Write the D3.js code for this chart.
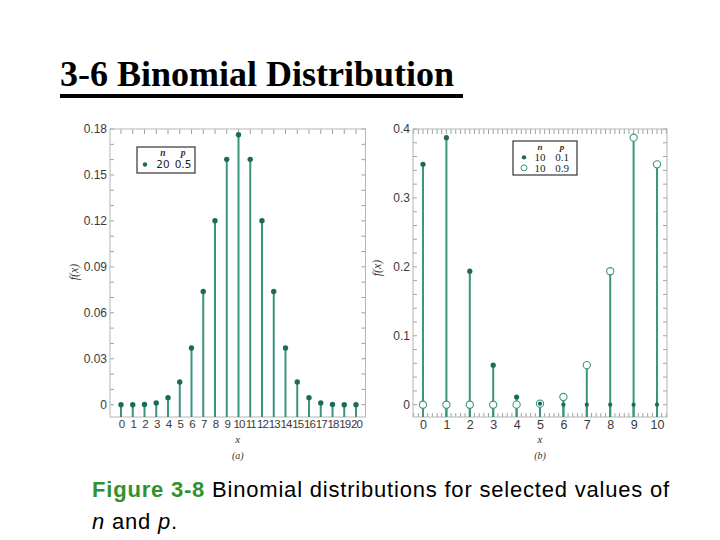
<!DOCTYPE html>
<html><head><meta charset="utf-8">
<script src="https://cdn.jsdelivr.net/npm/d3@7"></script>
<style>body{margin:0;background:#fff}svg{display:block}</style>
</head><body>
<svg id="c" width="720" height="540"></svg>
<script>
// ---- data ----
const titleText = "3-6 Binomial Distribution";
const xA = d3.range(0, 21);
const fA = [0.0000, 0.0000, 0.0002, 0.0011, 0.0046, 0.0148, 0.0370, 0.0739, 0.1201, 0.1602, 0.1762,
            0.1602, 0.1201, 0.0739, 0.0370, 0.0148, 0.0046, 0.0011, 0.0002, 0.0000, 0.0000];
const xB = d3.range(0, 11);
const fB1 = [0.3487, 0.3874, 0.1937, 0.0574, 0.0112, 0.0015, 0.0001, 0.0000, 0.0000, 0.0000, 0.0000]; // n=10 p=0.1
const fB9 = [0.0000, 0.0000, 0.0000, 0.0000, 0.0001, 0.0015, 0.0112, 0.0574, 0.1937, 0.3874, 0.3487]; // n=10 p=0.9
const yTicksA = [0, 0.03, 0.06, 0.09, 0.12, 0.15, 0.18];
const yTicksB = [0, 0.1, 0.2, 0.3, 0.4];
const legendA = [{n: "20", p: "0.5", open: false}];
const legendB = [{n: "10", p: "0.1", open: false}, {n: "10", p: "0.9", open: true}];

const stemColor = "#3b9580", dotColor = "#1c6a58", frameColor = "#b5b5b5", tickColor = "#a0a0a0";
const svg = d3.select("#c");

// Title
svg.append("text").attr("x", 60).attr("y", 86)
  .attr("font-family", "Liberation Serif, Times New Roman, serif").attr("font-weight", "bold")
  .attr("font-size", 36).attr("fill", "#000").text(titleText);
svg.append("rect").attr("x", 60).attr("y", 94).attr("width", 403).attr("height", 4).attr("fill", "#000");

function panel(cfg) {
  const g = svg.append("g");
  const x = d3.scaleLinear().domain(cfg.xDomain).range(cfg.xRange);
  const y = d3.scaleLinear().domain([0, cfg.yMax]).range([cfg.y0, cfg.yTop]);
  const L = cfg.frame[0], R = cfg.frame[1], T = cfg.yTop, B = cfg.bottom;

  // minor ticks
  const ym = d3.range(0, cfg.yMax + 1e-9, cfg.yMinor);
  g.append("g").selectAll("line").data(ym).join("line")
    .attr("x1", L).attr("x2", L + 4).attr("y1", d => y(d)).attr("y2", d => y(d))
    .attr("stroke", tickColor).attr("stroke-width", 1);
  g.append("g").selectAll("line").data(ym).join("line")
    .attr("x1", R).attr("x2", R - 4).attr("y1", d => y(d)).attr("y2", d => y(d))
    .attr("stroke", tickColor).attr("stroke-width", 1);
  const xm = d3.range(cfg.xMinorStart, cfg.xMinorEnd + 1e-9, cfg.xMinor);
  g.append("g").selectAll("line").data(xm).join("line")
    .attr("x1", d => x(d)).attr("x2", d => x(d)).attr("y1", T).attr("y2", T + 5)
    .attr("stroke", tickColor).attr("stroke-width", 1);
  if (cfg.bottomMinor) {
    g.append("g").selectAll("line").data(xm).join("line")
      .attr("x1", d => x(d)).attr("x2", d => x(d)).attr("y1", B).attr("y2", B - 4)
      .attr("stroke", tickColor).attr("stroke-width", 1);
  }
  // frame
  g.append("rect").attr("x", L).attr("y", T).attr("width", R - L).attr("height", B - T)
    .attr("fill", "none").attr("stroke", frameColor).attr("stroke-width", 1);

  // y axis labels
  const ya = d3.axisLeft(y).tickValues(cfg.yTicks).tickSize(0).tickPadding(0)
    .tickFormat(d => d === 0 ? "0" : cfg.fmt(d));
  g.append("g").attr("transform", `translate(${L - 3},0)`).call(ya)
    .call(s => s.select(".domain").remove())
    .selectAll("text").attr("font-family", "Liberation Sans, Arial, sans-serif")
    .attr("font-size", 12).attr("fill", "#3a3a3a");

  // x axis labels
  const xa = d3.axisBottom(x).tickValues(cfg.xs).tickSize(0).tickPadding(0).tickFormat(d3.format("d"));
  g.append("g").attr("transform", `translate(0,${B + 3})`).call(xa)
    .call(s => s.select(".domain").remove())
    .selectAll("text").attr("font-family", "Liberation Sans, Arial, sans-serif")
    .attr("font-size", cfg.xFont).attr("letter-spacing", cfg.xLs).attr("fill", "#3a3a3a");

  // axis titles
  const cx = (L + R) / 2;
  g.append("text").attr("x", cx).attr("y", 443).attr("text-anchor", "middle")
    .attr("font-family", "Liberation Serif, serif").attr("font-style", "italic")
    .attr("font-size", 11).attr("fill", "#333").text("x");
  g.append("text").attr("x", cx).attr("y", 459).attr("text-anchor", "middle")
    .attr("font-family", "Liberation Serif, serif").attr("font-style", "italic")
    .attr("font-size", 10).attr("fill", "#333").text(cfg.sub);
  g.append("text").attr("transform", `translate(${L - 32},${cfg.yLabelY}) rotate(-90)`)
    .attr("text-anchor", "middle").attr("font-family", "Liberation Serif, serif")
    .attr("font-style", "italic").attr("font-size", 12).attr("fill", "#333").text("f(x)");

  // series
  cfg.series.forEach(s => {
    const pts = cfg.xs.map((xv, i) => ({x: xv, v: s.values[i]}));
    g.append("g").selectAll("line").data(pts).join("line")
      .attr("x1", d => x(d.x)).attr("x2", d => x(d.x))
      .attr("y1", B).attr("y2", d => y(d.v))
      .attr("stroke", stemColor).attr("stroke-width", 2);
  });
  // open markers first, filled on top
  cfg.series.slice().sort((a, b) => (b.open ? 1 : 0) - (a.open ? 1 : 0)).forEach(s => {
    const pts = cfg.xs.map((xv, i) => ({x: xv, v: s.values[i]}));
    g.append("g").selectAll("circle").data(pts).join("circle")
      .attr("cx", d => x(d.x)).attr("cy", d => y(d.v))
      .attr("r", d => s.open ? 3.6 : (d.v < 0.002 && cfg.smallZero ? 2.1 : s.r))
      .attr("fill", s.open ? "#fff" : dotColor)
      .attr("stroke", s.open ? stemColor : "none").attr("stroke-width", 1.1);
  });

  // legend
  const lg = cfg.legend;
  g.append("rect").attr("x", lg.x).attr("y", lg.y).attr("width", lg.w).attr("height", lg.h)
    .attr("fill", "#fff").attr("stroke", "#333").attr("stroke-width", 1.2);
  g.append("text").attr("x", lg.nx).attr("y", lg.y + lg.hy).attr("text-anchor", "middle")
    .attr("font-family", "Liberation Serif, serif").attr("font-style", "italic").attr("font-weight", "bold")
    .attr("font-size", lg.hs).attr("fill", "#333").text("n");
  g.append("text").attr("x", lg.px).attr("y", lg.y + lg.hy).attr("text-anchor", "middle")
    .attr("font-family", "Liberation Serif, serif").attr("font-style", "italic").attr("font-weight", "bold")
    .attr("font-size", lg.hs).attr("fill", "#333").text("p");
  lg.items.forEach((it, i) => {
    const yy = lg.y + lg.r0 + i * lg.dr;
    g.append("circle").attr("cx", lg.dx).attr("cy", yy - lg.fs * 0.33)
      .attr("r", it.open ? 3 : 2.2).attr("fill", it.open ? "#fff" : dotColor)
      .attr("stroke", it.open ? stemColor : "none").attr("stroke-width", 1);
    g.append("text").attr("x", lg.nx).attr("y", yy).attr("text-anchor", "middle")
      .attr("font-family", lg.font).attr("font-size", lg.fs).attr("fill", "#222").text(it.n);
    g.append("text").attr("x", lg.px).attr("y", yy).attr("text-anchor", "middle")
      .attr("font-family", lg.font).attr("font-size", lg.fs).attr("fill", "#222").text(it.p);
  });
}

panel({
  xDomain: [0, 20], xRange: [121, 356], frame: [110, 365.5], yMax: 0.18, y0: 404.7, yTop: 129, bottom: 417,
  yMinor: 0.01, xMinor: 1, xMinorStart: 0, xMinorEnd: 20, bottomMinor: false, smallZero: false,
  yTicks: yTicksA, fmt: d3.format(".2f"), xs: xA, xFont: 11.5, xLs: -1, sub: "(a)", yLabelY: 272,
  series: [{values: fA, open: false, r: 2.7}],
  legend: {x: 137, y: 147, w: 58, h: 26, nx: 163, px: 183, hy: 9, hs: 9.5, r0: 21, dr: 10, dx: 145,
           fs: 10.5, font: "DejaVu Sans, sans-serif", items: legendA}
});

panel({
  xDomain: [0, 10], xRange: [423, 657], frame: [413, 667], yMax: 0.4, y0: 404.7, yTop: 129, bottom: 417,
  yMinor: 0.02, xMinor: 0.2, xMinorStart: -0.4, xMinorEnd: 10.4, bottomMinor: true, smallZero: true,
  yTicks: yTicksB, fmt: d3.format(".1f"), xs: xB, xFont: 12.5, xLs: 0, sub: "(b)", yLabelY: 268,
  series: [{values: fB1, open: false, r: 2.6}, {values: fB9, open: true}],
  legend: {x: 513, y: 141, w: 64, h: 34, nx: 540, px: 562, hy: 9, hs: 9, r0: 20, dr: 10.5, dx: 524,
           fs: 11, font: "Liberation Serif, serif", items: legendB}
});

// Caption
const cap = svg.append("text").attr("x", 92).attr("y", 497)
  .attr("font-family", "Liberation Sans, Arial, sans-serif").attr("font-size", 22).attr("letter-spacing", 0.8);
cap.append("tspan").attr("font-weight", "bold").attr("fill", "#2f922f").text("Figure 3-8");
cap.append("tspan").attr("fill", "#000").text(" Binomial distributions for selected values of");
const cap2 = svg.append("text").attr("x", 92).attr("y", 529)
  .attr("font-family", "Liberation Sans, Arial, sans-serif").attr("font-size", 22)
  .attr("letter-spacing", 0.8).attr("fill", "#000");
cap2.append("tspan").attr("font-style", "italic").text("n");
cap2.append("tspan").text(" and ");
cap2.append("tspan").attr("font-style", "italic").text("p");
cap2.append("tspan").text(".");
</script>
</body></html>
